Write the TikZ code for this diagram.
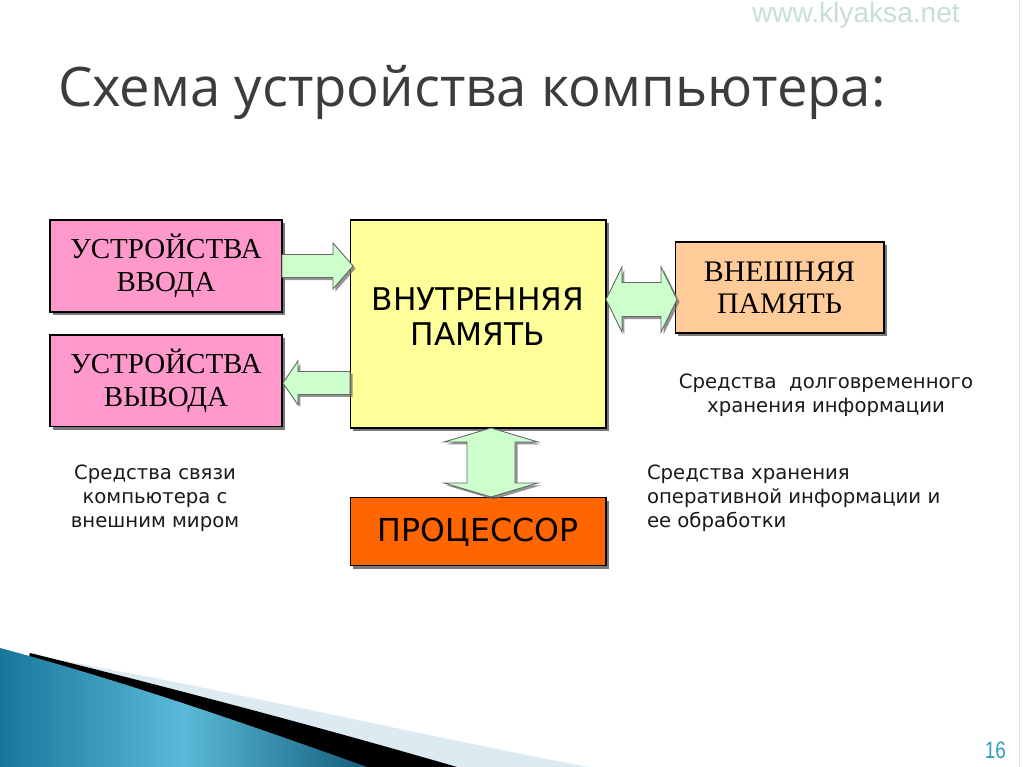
\documentclass[tikz,border=0pt]{standalone}
\usepackage{fontspec}
\setmainfont{Liberation Serif}
\newfontfamily\titlefont{Open Sans}
\newfontfamily\labelfont{DejaVu Sans}
\newfontfamily\webfont{Liberation Sans}
\usetikzlibrary{positioning,calc,shadows}
\definecolor{boxpink}{HTML}{FF99CC}
\definecolor{memyellow}{HTML}{FFFF99}
\definecolor{extorange}{HTML}{FFCC99}
\definecolor{cpuorange}{HTML}{FF6600}
\definecolor{arrowgreen}{HTML}{CCFFCC}
\definecolor{titlegray}{HTML}{3C3C3C}
\definecolor{notegray}{HTML}{1A1A1A}
\definecolor{webgreen}{HTML}{C8DFD6}
\definecolor{pageblue}{HTML}{2F9BC1}
\definecolor{swoosha}{HTML}{17769A}
\definecolor{swooshb}{HTML}{5BBAD9}
\definecolor{swooshc}{HTML}{DCEBF2}
\tikzset{
  schemepic/.style={
    x=0.02cm
    ,y=-0.02cm
    ,inner sep=0pt
    ,outer sep=0pt
  }
  ,bounder/.style={draw=black,line width=.6pt
    ,drop shadow={shadow xshift=.06cm,shadow yshift=-.06cm,fill=black!75,opacity=.7}}
  ,devbox/.style={bounder,fill=boxpink
    ,minimum width=4.64cm,minimum height=1.84cm
    ,align=center,font=\fontsize{16.5}{18.7}\selectfont}
  ,membox/.style={bounder,fill=memyellow
    ,minimum width=5.12cm,minimum height=4.16cm
    ,align=center,font=\labelfont\fontsize{17.8}{20}\selectfont}
  ,extbox/.style={bounder,fill=extorange
    ,minimum width=4.18cm,minimum height=1.82cm
    ,align=center,font=\fontsize{17}{18}\selectfont}
  ,cpubox/.style={bounder,fill=cpuorange
    ,minimum width=5.12cm,minimum height=1.36cm
    ,font=\labelfont\fontsize{18}{20}\selectfont}
  ,note/.style={font=\labelfont\fontsize{11.2}{13.6}\selectfont,text=notegray}
  ,bigarrow/.style={draw=black!60,line width=.5pt,fill=arrowgreen
    ,drop shadow={shadow xshift=.05cm,shadow yshift=-.05cm,fill=black!60,opacity=.7}}
}

\begin{document}
\begin{tikzpicture}[schemepic]
    % page
    \fill[white] (0,0) rectangle (1024,767);
    \useasboundingbox (0,0) rectangle (1024,767);
    \draw[black!12] (1019,0) -- (1019,767);
    \fill[swooshc] (60,660) .. controls (250,695) and (420,735) .. (588,767) -- (0,767) -- cycle;
    \fill[black] (30,653) .. controls (180,690) and (330,730) .. (457,767) -- (0,767) -- cycle;
    \shade[left color=swoosha,right color=swoosha!80!black,middle color=swooshb]
      (0,648) .. controls (120,680) and (250,725) .. (367,767) -- (0,767) -- cycle;
    \node[anchor=base west,font=\webfont\fontsize{16}{17}\selectfont,text=webgreen] (web) at (752,23) {www.klyaksa.net};
    \node[anchor=base east,font=\webfont\fontsize{13.5}{14}\selectfont,text=pageblue] (pagenum) at (1006,758) {\scalebox{0.8}[1]{16}};
    \node[anchor=base west,font=\titlefont\fontsize{31}{31}\selectfont,text=titlegray] (title) at (58,107) {Схема устройства компьютера:};
    % blocks
    \node[devbox] (inbox) at (166,266) {УСТРОЙСТВА\\ВВОДА};
    \node[devbox,below=0.46cm of inbox] (outbox) {УСТРОЙСТВА\\ВЫВОДА};
    \node[membox] (mem) at (478,324) {ВНУТРЕННЯЯ\\ПАМЯТЬ\\[-12pt]\mbox{}};
    \node[extbox] (ext) at (779.5,287.5) {ВНЕШНЯЯ\\ПАМЯТЬ};
    \node[cpubox,below=1.4cm of mem] (cpu) {ПРОЦЕССОР};
    % arrows
    \draw[bigarrow] ($(inbox.east)+(0,-11.5)$) -- ++(51,0) -- ++(0,-11.5)
      -- ($(mem.west|-inbox.east)+(3,0)$) -- ($(inbox.east)+(51,23)$)
      -- ++(0,-11.5) -- ++(-51,0) -- cycle;
    \draw[bigarrow] ($(outbox.east)+(1,2)$) -- ++(15,-22) -- ++(0,10.5)
      -- ($(mem.west|-outbox.east)+(0,-9.5)$) -- ++(0,23)
      -- ($(outbox.east)+(16,13.5)$) -- ++(0,10.5) -- cycle;
    \draw[bigarrow] ($(mem.east|-ext.west)+(0,12)$) -- ++(16,-32.5) -- ++(0,15.5)
      -- ($(ext.west)+(-14,-5)$) -- ++(0,-15.5) -- ($(ext.west)+(2,12)$)
      -- ++(-16,32.5) -- ++(0,-15.5) -- ($(mem.east|-ext.west)+(16,29)$)
      -- ++(0,15.5) -- cycle;
    \draw[bigarrow] ($(mem.south)+(13,0)$) -- ++(47,14) -- ++(-23,0)
      -- ($(cpu.north)+(37,-15)$) -- ++(23,0) -- ($(cpu.north)+(13,-1)$)
      -- ++(-47,-14) -- ++(23,0) -- ($(mem.south)+(-11,14)$) -- ++(-23,0) -- cycle;
    % notes
    \node[note,align=center] (commnote) at (155,498) {Средства связи\\компьютера с\\внешним миром};
    \node[note,align=center] (extnote) at (826,395) {Средства\ \ долговременного\\хранения информации};
    \node[note,align=left,anchor=west] (memnote) at (647,498) {Средства хранения\\оперативной информации и\\ее обработки};
\end{tikzpicture}
\end{document}
